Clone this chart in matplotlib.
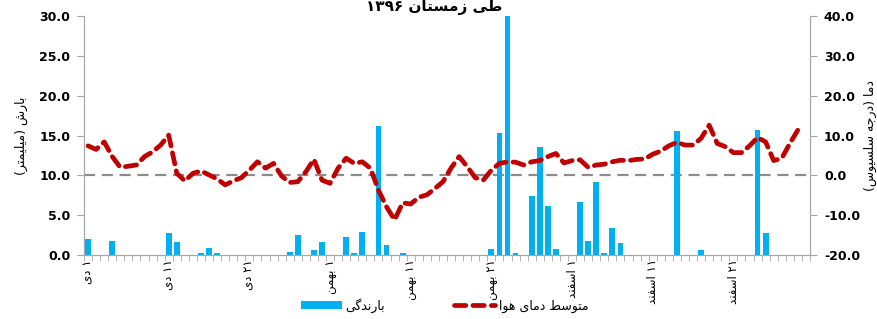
import numpy as np
import matplotlib
matplotlib.use("Agg")
import matplotlib.pyplot as plt

# --- data (1 Dey .. end of Esfand 1396) ---
rain = [2.0, 0, 0, 1.7, 0, 0, 0, 0, 0, 0,
        2.8, 1.6, 0, 0, 0.2, 0.9, 0.2, 0, 0, 0,
        0, 0, 0, 0, 0, 0.4, 2.5, 0, 0.6, 1.6,
        0, 0, 2.2, 0.2, 2.9, 0, 16.2, 1.2, 0, 0.3,
        0, 0, 0, 0, 0, 0, 0, 0, 0, 0,
        0.8, 15.3, 30.0, 0.3, 0, 7.4, 13.5, 6.1, 0.8, 0,
        0, 6.7, 1.7, 9.2, 0.2, 3.4, 1.5, 0, 0, 0,
        0, 0, 0, 15.6, 0, 0, 0.6, 0, 0, 0,
        0, 0, 0, 15.7, 2.7, 0, 0, 0, 0, 0]
temp = [7.4, 6.5, 8.4, 4.7, 2.0, 2.3, 2.6, 4.7, 5.9, 7.6,
        10.1, 0.5, -1.4, 0.5, 1.1, 0.1, -0.9, -2.4, -1.4, -0.6,
        1.3, 3.4, 1.8, 3.0, -0.2, -1.8, -1.6, 0.9, 4.0, -1.2,
        -2.0, 1.8, 4.3, 3.0, 3.4, 1.8, -3.7, -7.9, -11.2, -6.9,
        -7.2, -5.5, -4.9, -3.3, -1.6, 1.8, 4.7, 2.2, -0.6, -1.2,
        1.3, 3.0, 3.4, 3.3, 2.6, 3.4, 3.7, 4.7, 5.5, 3.1,
        3.7, 3.9, 2.0, 2.6, 2.8, 3.4, 3.8, 3.7, 4.0, 4.1,
        5.3, 6.1, 7.4, 8.3, 7.6, 7.6, 9.3, 12.6, 8.0, 7.2,
        5.7, 5.7, 7.4, 9.5, 8.4, 3.7, 4.3, 8.0, 11.4, np.nan]
label_pos = [0, 10, 20, 30, 40, 50, 60, 70, 80]
label_txt = ["۱ دی", "۱۱ دی", "۲۱ دی", "۱ بهمن", "۱۱ بهمن", "۲۱ بهمن",
             "۱ اسفند", "۱۱ اسفند", "۲۱ اسفند"]

# --- minimal persian shaping (matplotlib has no bidi / joining) ---
FORMS = {
    'ا': ('\uFE8D', '\uFE8E'), 'د': ('\uFEA9', '\uFEAA'),
    'ر': ('\uFEAD', '\uFEAE'), 'ز': ('\uFEAF', '\uFEB0'),
    'و': ('\uFEED', '\uFEEE'),
    'ب': ('\uFE8F', '\uFE90', '\uFE91', '\uFE92'),
    'ت': ('\uFE95', '\uFE96', '\uFE97', '\uFE98'),
    'ج': ('\uFE9D', '\uFE9E', '\uFE9F', '\uFEA0'),
    'س': ('\uFEB1', '\uFEB2', '\uFEB3', '\uFEB4'),
    'ش': ('\uFEB5', '\uFEB6', '\uFEB7', '\uFEB8'),
    'ط': ('\uFEC1', '\uFEC2', '\uFEC3', '\uFEC4'),
    'ف': ('\uFED1', '\uFED2', '\uFED3', '\uFED4'),
    'ل': ('\uFEDD', '\uFEDE', '\uFEDF', '\uFEE0'),
    'م': ('\uFEE1', '\uFEE2', '\uFEE3', '\uFEE4'),
    'ن': ('\uFEE5', '\uFEE6', '\uFEE7', '\uFEE8'),
    'ه': ('\uFEE9', '\uFEEA', '\uFEEB', '\uFEEC'),
    'ی': ('\uFBFC', '\uFBFD', '\uFBFE', '\uFBFF'),
    'گ': ('\uFB92', '\uFB93', '\uFB94', '\uFB95'),
}


def shape(w):
    out = []
    for i, c in enumerate(w):
        if c not in FORMS:
            out.append(c)
            continue
        f = FORMS[c]
        prev = w[i-1] if i > 0 else ''
        nxt = w[i+1] if i+1 < len(w) else ''
        jp = prev in FORMS and len(FORMS[prev]) == 4
        jn = len(f) == 4 and nxt in FORMS
        if jp and jn:
            out.append(f[3])
        elif jp:
            out.append(f[1])
        elif jn:
            out.append(f[2])
        else:
            out.append(f[0])
    return ''.join(out)


def fa(text):
    vis = []
    for w in reversed(text.split(' ')):
        if w and w[0] in '۰۱۲۳۴۵۶۷۸۹':
            vis.append(w)
        else:
            vis.append(shape(w)[::-1].translate(str.maketrans('()', ')(')))
    return ' '.join(vis)


plt.rcParams['font.family'] = ['DejaVu Sans']
x = np.arange(len(rain))

fig = plt.figure(figsize=(8.77, 3.19), dpi=100)
ax = fig.add_axes([0.0958, 0.2006, 0.8278, 0.7492])
ax2 = ax.twinx()

bars = ax.bar(x, rain, width=0.72, color='#00B0F0', zorder=2, label=fa("بارندگی"))
ax.axhline(10, color='#8C8C8C', lw=1.6, dashes=(5, 3), zorder=1)
ln, = ax2.plot(x, temp, color='#C00000', lw=3.4, dashes=(2.4, 1.5),
               dash_capstyle='round', label=fa("متوسط دمای هوا"), zorder=3)

ax.set_xlim(-0.5, len(rain) - 0.5)
ax.set_ylim(0, 30)
ax2.set_ylim(-20, 40)
ax.set_yticks(np.arange(0, 31, 5))
ax2.set_yticks(np.arange(-20, 41, 10))
ax.set_yticklabels(["%.1f" % v for v in np.arange(0, 31, 5)], fontweight='bold', fontsize=9)
ax2.set_yticklabels(["%.1f" % v for v in np.arange(-20, 41, 10)], fontweight='bold', fontsize=9)

ax.set_xticks(label_pos)
ax.set_xticklabels([fa(t) for t in label_txt], rotation=90, fontsize=8.5)
ax.set_xticks(np.arange(-0.5, len(rain)), minor=True)
ax.tick_params(axis='x', which='major', length=0, pad=3)
ax.tick_params(axis='x', which='minor', length=4, color='#A6A6A6', direction='out')
ax.tick_params(axis='y', length=5, color='#A6A6A6', pad=5)
ax2.tick_params(axis='y', length=5, color='#A6A6A6', pad=5)

for a in (ax, ax2):
    a.spines['top'].set_visible(False)
    for s in ('left', 'right', 'bottom'):
        a.spines[s].set_color('#A6A6A6')

ax.set_ylabel(fa("بارش (میلیمتر)"), fontsize=9, labelpad=8)
ax2.set_ylabel(fa("دما (درجه سلسیوس)"), fontsize=9, rotation=90, labelpad=3)

fig.text(0.495, 1.0, fa("طی زمستان ۱۳۹۶"), ha='center', va='top',
         fontsize=11, fontweight='bold')

fig.legend(handles=[bars, ln], loc='lower center', bbox_to_anchor=(0.507, -0.015),
           ncol=2, frameon=False, fontsize=9, handlelength=3.3, columnspacing=5.5,
           handletextpad=0.3)

fig.savefig("out.png", dpi=100)
